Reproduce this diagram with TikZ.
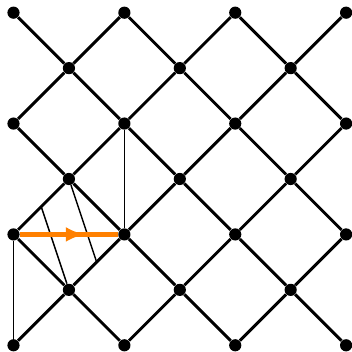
\documentclass[tikz,border=0pt]{standalone}
\usetikzlibrary{arrows.meta,calc,decorations.markings}
\definecolor{arrorange}{RGB}{255,128,0}
\tikzset{
  dot/.style={circle, fill=black, inner sep=0pt, minimum size=2.2mm},
  latt/.style={line width=1.5pt, black},
  aux/.style={line width=0.75pt, black},
  transl/.style={line width=2.2pt, arrorange,
    decoration={markings, mark=at position 0.66 with {\arrow{Latex[length=3.4mm,width=2.7mm]}}},
    postaction={decorate}},
}
\begin{document}
\begin{tikzpicture}
\useasboundingbox (-0.2436,-0.121) rectangle (6.089,6.229);

% lattice points
\foreach \i in {0,...,6}
  \foreach \j in {0,...,6} {
    \pgfmathtruncatemacro\s{\i+\j}
    \ifodd\s\else \node[dot] (d\i\j) at (\i,\j) {}; \fi
  }

% lattice edges
\foreach \i in {0,...,5}
  \foreach \j in {0,...,6} {
    \pgfmathtruncatemacro\s{\i+\j}
    \pgfmathtruncatemacro\ii{\i+1}
    \pgfmathtruncatemacro\ju{\j+1}
    \pgfmathtruncatemacro\jd{\j-1}
    \ifodd\s\else
      \ifnum\j<6 \draw[latt] (d\i\j) -- (d\ii\ju); \fi
      \ifnum\j>0 \draw[latt] (d\i\j) -- (d\ii\jd); \fi
    \fi
  }

% fundamental domain
\draw[aux] (d02) -- (d00);
\draw[aux] (d24) -- (d22);
\draw[aux] ($(d02)!0.5!(d13)$) -- (d11);
\draw[aux] (d13) -- ($(d22)!0.5!(d11)$);

% translation
\draw[transl] (d02) -- (d22);

\end{tikzpicture}
\end{document}
